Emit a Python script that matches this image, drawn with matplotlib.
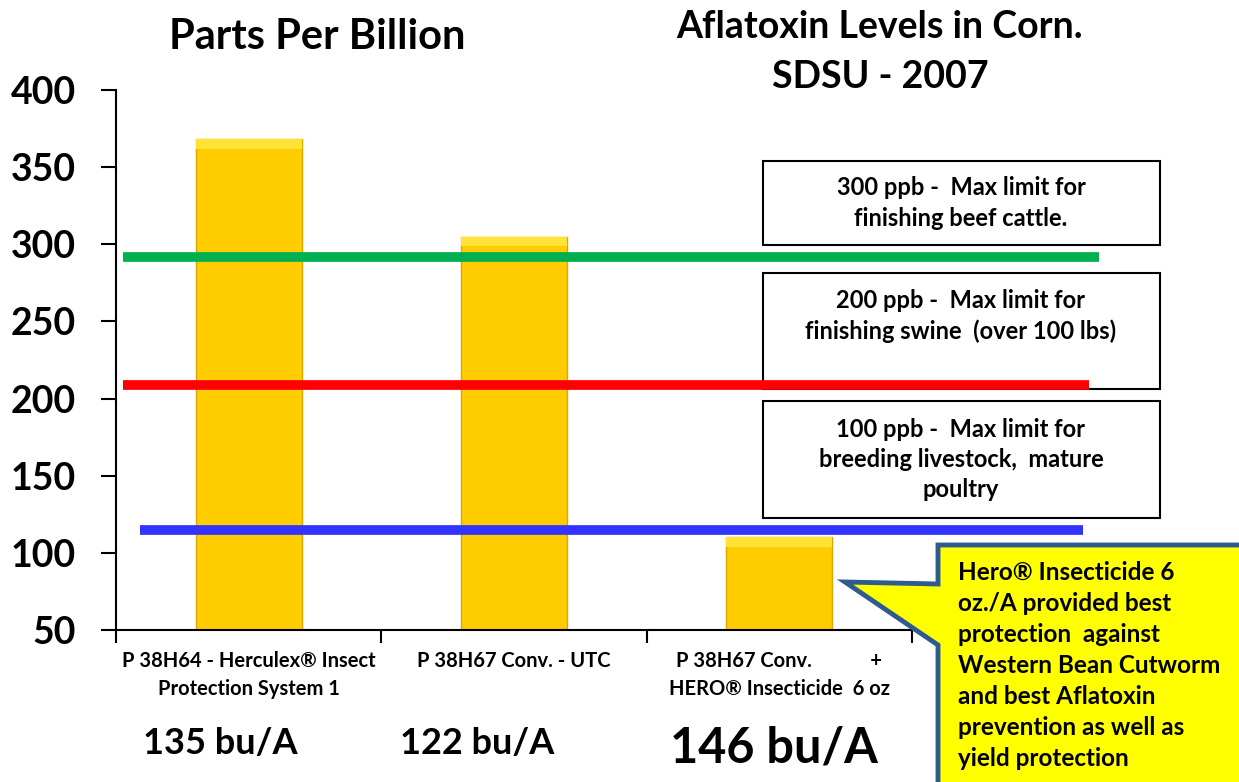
import numpy as np
import matplotlib.pyplot as plt
from matplotlib.patches import Rectangle, Polygon

plt.rcParams['font.family'] = ['Lato', 'DejaVu Sans']
plt.rcParams['font.weight'] = 'bold'

# data
categories = ['P 38H64 - Herculex® Insect\nProtection System 1',
              'P 38H67 Conv. - UTC',
              'P 38H67 Conv.            +\nHERO® Insecticide  6 oz']
ppb = [368, 305, 110]
yields = ['135 bu/A', '122 bu/A', '146 bu/A']
limit_values = [292, 209, 115]
limit_colors = ['#00B050', '#FF0000', '#3333FF']
limit_text = ['300 ppb -  Max limit for\nfinishing beef cattle.',
              '200 ppb -  Max limit for\nfinishing swine  (over 100 lbs)\n',
              '100 ppb -  Max limit for\nbreeding livestock,  mature\npoultry']
yticks = [50, 100, 150, 200, 250, 300, 350, 400]

W, H = 1239, 782
fig = plt.figure(figsize=(W / 100, H / 100), dpi=100)


def px(x, y):
    # pixel (from top-left) -> figure fraction
    return x / W, 1 - y / H


ax = fig.add_axes([116 / W, 1 - 630 / H, (912 - 116) / W, (630 - 90) / H])
x = np.arange(len(ppb))
ax.bar(x, [v - 50 for v in ppb], bottom=50, width=0.4, color='#FFCC00',
       edgecolor='#D9A800', linewidth=1.0, zorder=2)
# light bevel on bar tops
ax.bar(x, [6] * len(ppb), bottom=[v - 6 for v in ppb], width=0.4,
       color='#FFE236', linewidth=0, zorder=3)

ax.set_xlim(-0.5, 2.5)
ax.set_ylim(50, 400)
ax.set_yticks(yticks)
ax.tick_params(axis='y', labelsize=27, length=11, width=1.5, pad=18)
ax.set_xticks(x, categories, fontsize=14.5, linespacing=1.5)
ax.tick_params(axis='x', length=0, pad=15)
ax.set_xticks([-0.5, 0.5, 1.5, 2.5], minor=True)
ax.tick_params(axis='x', which='minor', length=9, width=1.5, direction='out')
for lab in ax.get_yticklabels():
    lab.set_fontweight('bold')
for s in ['top', 'right']:
    ax.spines[s].set_visible(False)
ax.spines['left'].set_linewidth(1.5)
ax.spines['bottom'].set_linewidth(1.5)

# reference limit lines (extend beyond the plot area)
line_x = [(-0.474, 3.205), (-0.474, 3.167), (-0.41, 3.145)]
for val, col, (x0, x1) in zip(limit_values, limit_colors, line_x):
    ax.plot([x0, x1], [val, val], color=col, lw=7, solid_capstyle='butt',
            clip_on=False, zorder=4)

# limit boxes (under the lines)
boxes = [(763, 161, 245), (763, 273, 389), (763, 401, 518)]
for (bx, by0, by1), txt in zip(boxes, limit_text):
    x0, y0 = px(bx, by1)
    x1, y1 = px(1160, by0)
    ax.add_patch(Rectangle((x0, y0), x1 - x0, y1 - y0, transform=fig.transFigure,
                           facecolor='white', edgecolor='black', lw=1.5,
                           clip_on=False, zorder=1))
    tx, ty = px(961, (by0 + by1) / 2)
    fig.text(tx, ty, txt, ha='center', va='center', fontsize=17, linespacing=1.38)

# callout
poly = [px(938, 545), px(1245, 545), px(1245, 790), px(938, 790),
        px(938, 645), px(845, 582), px(938, 584)]
ax.add_patch(Polygon(poly, closed=True, transform=fig.transFigure,
                     facecolor='#FFFF00', edgecolor='#2F5C8F', lw=3.5,
                     clip_on=False, zorder=5))
callout = ('Hero® Insecticide 6\noz./A provided best\nprotection  against\n'
           'Western Bean Cutworm\nand best Aflatoxin\nprevention as well as\nyield protection')
cx, cy = px(958, 561)
fig.text(cx, cy, callout, ha='left', va='top', fontsize=17.5, linespacing=1.42, zorder=6)

# titles
fig.text(*px(317, 37), 'Parts Per Billion', ha='center', va='center', fontsize=30)
fig.text(*px(880, 27), 'Aflatoxin Levels in Corn.', ha='center', va='center', fontsize=27)
fig.text(*px(880, 77), 'SDSU - 2007', ha='center', va='center', fontsize=27)

# yields
yield_pos = [(220, 743, 26), (477, 743, 26), (774, 748, 35)]
for (yx, yy, fs), txt in zip(yield_pos, yields):
    fig.text(*px(yx, yy), txt, ha='center', va='center', fontsize=fs)

fig.savefig('out.png', dpi=100)
